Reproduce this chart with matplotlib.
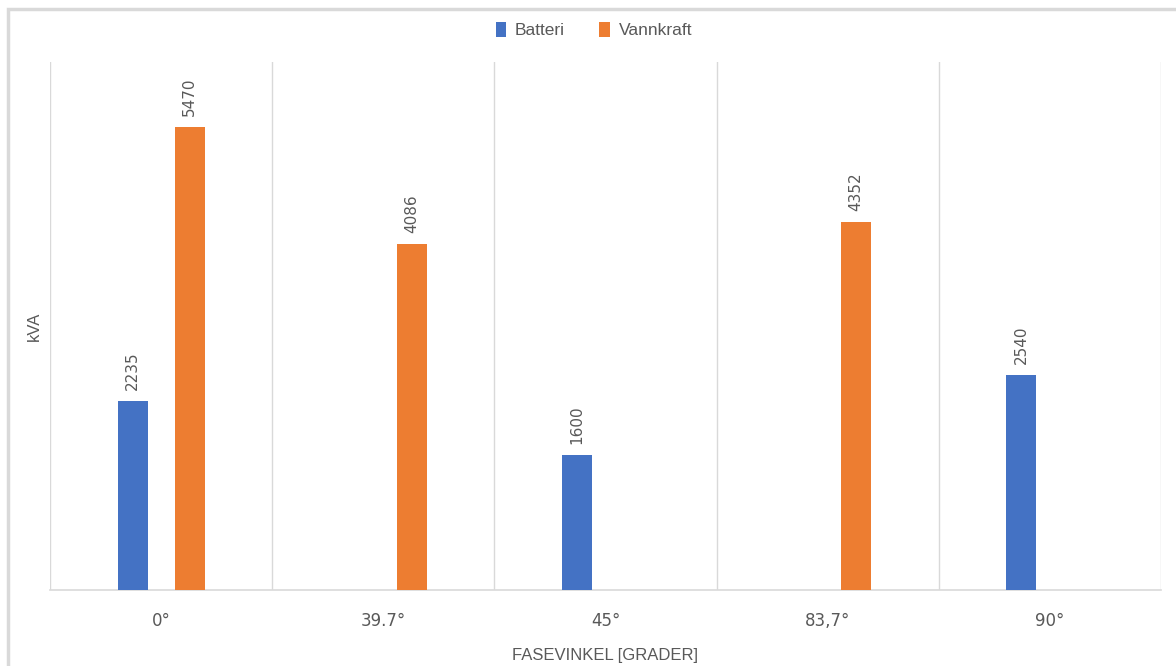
import numpy as np
import matplotlib.pyplot as plt
from matplotlib.patches import Rectangle

kategorier = ['0°', '39.7°', '45°', '83,7°', '90°']
batteri = [2235, 0, 1600, 0, 2540]
vannkraft = [5470, 4086, 0, 4352, 0]

blaa = '#4472C4'
oransje = '#ED7D31'
tekst = '#595959'
grid = '#D9D9D9'

plt.rcParams['font.family'] = ['Liberation Sans', 'DejaVu Sans']

fig = plt.figure(figsize=(11.76, 6.66), dpi=100)
ax = fig.add_axes([50/1176, 1 - 590/666, (1161 - 50)/1176, (590 - 62)/666])

x = np.arange(len(kategorier))
bredde = 0.135
off = 0.128

for i in range(len(kategorier)):
    if batteri[i] > 0:
        ax.bar(x[i] - off, batteri[i], bredde, color=blaa, zorder=3)
        ax.text(x[i] - off, batteri[i] + 130, str(batteri[i]), rotation=90,
                ha='center', va='bottom', fontsize=11, color=tekst,
                family='DejaVu Sans')
    if vannkraft[i] > 0:
        ax.bar(x[i] + off, vannkraft[i], bredde, color=oransje, zorder=3)
        ax.text(x[i] + off, vannkraft[i] + 130, str(vannkraft[i]), rotation=90,
                ha='center', va='bottom', fontsize=11, color=tekst,
                family='DejaVu Sans')

# legend handles
ax.bar([0], [0], color=blaa, label='Batteri')
ax.bar([0], [0], color=oransje, label='Vannkraft')

ax.set_xlim(-0.5, len(kategorier) - 0.5)
ax.set_ylim(0, 6240)
ax.set_xticks(x)
ax.set_xticklabels(kategorier, fontsize=12, color=tekst, family='DejaVu Sans')
ax.set_xticks(np.arange(len(kategorier) + 1) - 0.5, minor=True)
ax.grid(True, which='minor', axis='x', color=grid, lw=1, zorder=0)
ax.tick_params(axis='x', which='both', length=0, pad=16)
ax.set_yticks([])

for s in ['top', 'left', 'right']:
    ax.spines[s].set_visible(False)
ax.spines['bottom'].set_color(grid)
ax.spines['bottom'].set_linewidth(1.2)

ax.set_xlabel('FASEVINKEL [GRADER]', fontsize=12, color=tekst, labelpad=13)
ax.set_ylabel('kVA', fontsize=12, color=tekst, labelpad=6)

fig.legend(loc='upper center', bbox_to_anchor=(0.505, 0.99), ncol=2, frameon=False,
           fontsize=12.5, labelcolor=tekst, handlelength=0.6, handleheight=0.9,
           handletextpad=0.5, columnspacing=2.0)

# outer chart frame
fig.patches.append(Rectangle((8/1176, -0.1), 1.2, 1 - 9/666 + 0.1,
                             transform=fig.transFigure, fill=False,
                             edgecolor='#D9D9D9', lw=2.5))

fig.savefig('out.png', dpi=100)
